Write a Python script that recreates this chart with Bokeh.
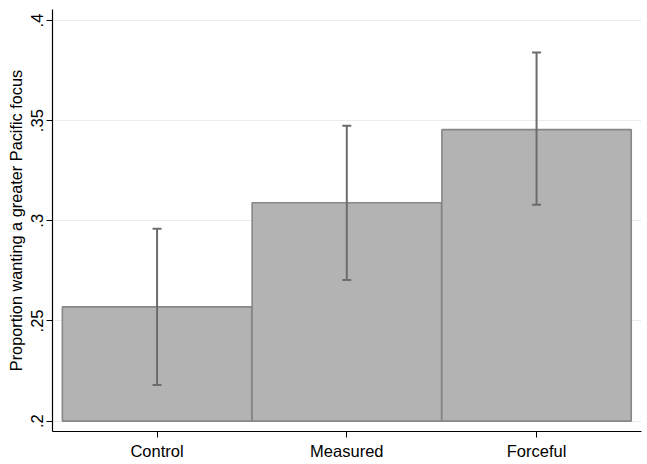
from bokeh.plotting import figure
from bokeh.models import ColumnDataSource, FixedTicker, Range1d, Whisker, TeeHead, CustomJSTickFormatter
from bokeh.embed import file_html
from bokeh.resources import INLINE

categories = ["Control", "Measured", "Forceful"]
positions = [1, 2, 3]
means = [0.257, 0.309, 0.3455]
lower = [0.218, 0.2705, 0.308]
upper = [0.296, 0.3475, 0.384]
y_ticks = [0.2, 0.25, 0.3, 0.35, 0.4]

src = ColumnDataSource(dict(x=positions, top=means, lo=lower, hi=upper))

FONT = "Liberation Sans"

p = figure(width=647, height=464, output_backend="svg", toolbar_location=None,
           x_range=Range1d(0.449, 3.553), y_range=Range1d(0.1948, 0.4055),
           min_border_left=52, min_border_right=6, min_border_top=9, min_border_bottom=33)
p.outline_line_color = None
p.background_fill_color = "white"
p.border_fill_color = "white"

p.vbar(x="x", top="top", bottom=0.2, width=0.998, source=src,
       fill_color="#b3b3b3", line_color="#878787", line_width=1.6)

w = Whisker(source=src, base="x", lower="lo", upper="hi", level="annotation",
            line_color="#6c6c6c", line_width=2,
            lower_head=TeeHead(size=9, line_color="#6c6c6c", line_width=2),
            upper_head=TeeHead(size=9, line_color="#6c6c6c", line_width=2))
p.add_layout(w)

p.xgrid.grid_line_color = None
p.ygrid.grid_line_color = "#e6eef0"
p.ygrid.grid_line_width = 1
p.ygrid.ticker = FixedTicker(ticks=y_ticks)

p.yaxis.ticker = FixedTicker(ticks=y_ticks)
p.yaxis.formatter = CustomJSTickFormatter(code="""
var s = tick.toFixed(2);
s = s.replace(/^0/, '');
if (s.endsWith('0')) { s = s.slice(0, -1); }
return s;
""")
p.yaxis.major_label_orientation = "vertical"
p.yaxis.axis_label = "Proportion wanting a greater Pacific focus"
p.yaxis.axis_label_text_font = FONT
p.yaxis.axis_label_text_font_style = "normal"
p.yaxis.axis_label_text_font_size = "16.3px"
p.yaxis.axis_label_text_color = "black"
p.yaxis.axis_label_standoff = 4

p.xaxis.ticker = FixedTicker(ticks=positions)
p.xaxis.major_label_overrides = {pos: cat for pos, cat in zip(positions, categories)}
p.xaxis.axis_label_standoff = 0

for ax in (p.xaxis, p.yaxis):
    ax.major_label_text_font = FONT
    ax.major_label_text_font_size = "16.5px"
    ax.major_label_text_color = "black"
    ax.axis_line_color = "black"
    ax.axis_line_width = 1.2
    ax.major_tick_line_color = "black"
    ax.major_tick_out = 6
    ax.major_tick_in = 0
    ax.minor_tick_line_color = None
    ax.major_label_standoff = 3
p.xaxis.major_label_standoff = 4

open("out.html", "w").write(file_html(p, INLINE))
